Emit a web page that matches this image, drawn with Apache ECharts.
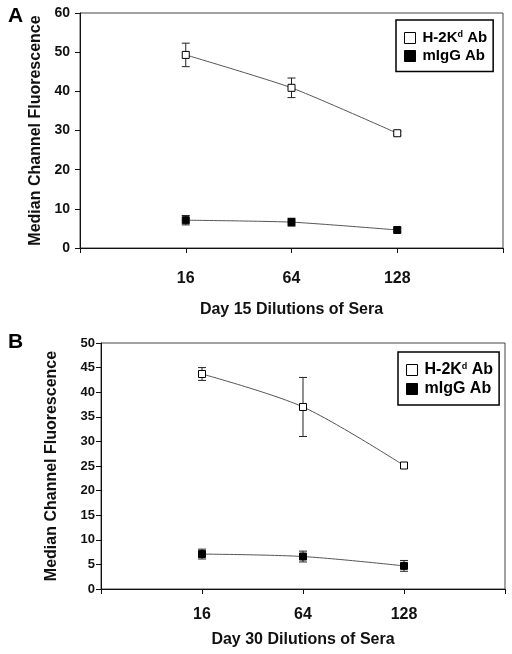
<!DOCTYPE html>
<html><head><meta charset="utf-8">
<script src="https://cdn.jsdelivr.net/npm/echarts@6/dist/echarts.min.js"></script>
<style>html,body{margin:0;padding:0;background:#fff}#c{width:512px;height:654px}</style>
</head><body><div id="c"></div>
<script>
const categories = ['', '16', '64', '128', ''];
const seriesNames = ['H-2Kd Ab', 'mIgG Ab'];
const aH2Kd = [49.3, 40.9, 29.3];
const aH2KdErr = [3.0, 2.5, 0.5];
const aMIgG = [7.1, 6.6, 4.6];
const aMIgGErr = [1.2, 1.0, 0.5];
const bH2Kd = [43.7, 37.0, 25.1];
const bH2KdErr = [1.3, 6.0, 0.6];
const bMIgG = [7.1, 6.6, 4.7];
const bMIgGErr = [1.0, 1.1, 1.1];
const xNames = ['Day 15 Dilutions of Sera', 'Day 30 Dilutions of Sera'];
const yName = 'Median Channel Fluorescence';

const FONT = 'Liberation Sans, Arial, sans-serif';
const pad = v => ['-', ...v, '-'];
const errData = (v, e) => v.map((y, i) => [i + 1, y - e[i], y + e[i]]);

function errSeries(idx, v, e) {
  return {
    type: 'custom', xAxisIndex: idx, yAxisIndex: idx, silent: true, z: 1,
    data: errData(v, e),
    encode: {x: 0, y: [1, 2]},
    renderItem: (params, api) => {
      const x = api.value(0);
      const lo = api.coord([x, api.value(1)]);
      const hi = api.coord([x, api.value(2)]);
      const w = 4;
      const st = {stroke: '#222', lineWidth: 1};
      return {type: 'group', children: [
        {type: 'line', shape: {x1: lo[0], y1: lo[1], x2: hi[0], y2: hi[1]}, style: st},
        {type: 'line', shape: {x1: lo[0] - w, y1: lo[1], x2: lo[0] + w, y2: lo[1]}, style: st},
        {type: 'line', shape: {x1: hi[0] - w, y1: hi[1], x2: hi[0] + w, y2: hi[1]}, style: st}
      ]};
    }
  };
}
function lineSeries(idx, name, v, filled, smooth) {
  return {
    type: 'line', name, xAxisIndex: idx, yAxisIndex: idx, z: 3,
    data: pad(v), smooth, symbol: 'rect', symbolSize: 7,
    lineStyle: {color: '#555', width: 1},
    itemStyle: {color: filled ? '#000' : '#fff', borderColor: '#000', borderWidth: 1},
    emphasis: {disabled: true}
  };
}
const legendData = [
  {name: seriesNames[0], icon: 'rect', itemStyle: {color: '#fff', borderColor: '#000', borderWidth: 1}},
  {name: seriesNames[1], icon: 'rect', itemStyle: {color: '#000', borderColor: '#000', borderWidth: 1}}
];
function legend(left, top, fs) {
  return {
    left, top, orient: 'vertical', data: legendData, itemWidth: 11, itemHeight: 11, itemGap: 3,
    padding: [10, 6, 8, 8], borderColor: '#000', borderWidth: 1.5, selectedMode: false,
    formatter: n => n === seriesNames[0] ? 'H-2K{sup|d} Ab' : n,
    textStyle: {fontFamily: FONT, fontWeight: 'bold', fontSize: fs, color: '#000', padding: [0, 0, 0, 2],
      rich: {sup: {fontFamily: FONT, fontWeight: 'bold', fontSize: 9, color: '#000', padding: [0, 0, 7, 0]}}}
  };
}
function xAxis(idx, margin, nameGap) {
  return {
    type: 'category', gridIndex: idx, data: categories, boundaryGap: false,
    name: xNames[idx], nameLocation: 'middle', nameGap,
    nameTextStyle: {fontFamily: FONT, fontWeight: 'bold', fontSize: 16, color: '#111'},
    axisLine: {lineStyle: {color: '#111', width: 1}},
    axisTick: {show: true, length: 5, inside: false, lineStyle: {color: '#111'}, alignWithLabel: true},
    axisLabel: {fontFamily: FONT, fontWeight: 'bold', fontSize: 16, color: '#111', margin, showMinLabel: true, showMaxLabel: true, interval: 0},
    splitLine: {show: false}
  };
}
function yAxis(idx, max, interval, nameGap, fs, margin) {
  return {
    type: 'value', gridIndex: idx, min: 0, max, interval,
    name: yName, nameLocation: 'middle', nameGap,
    nameTextStyle: {fontFamily: FONT, fontWeight: 'bold', fontSize: 16, color: '#111'},
    axisLine: {show: true, lineStyle: {color: '#111', width: 1}},
    axisTick: {show: true, length: 5, lineStyle: {color: '#111'}},
    axisLabel: {fontFamily: FONT, fontWeight: 'bold', fontSize: fs, color: '#111', margin},
    splitLine: {show: false}
  };
}
const chart = echarts.init(document.getElementById('c'), null, {renderer: 'canvas'});
chart.setOption({
  animation: false,
  backgroundColor: '#fff',
  title: [
    {text: 'A', left: 8, top: 6, padding: 0, textStyle: {fontFamily: FONT, fontWeight: 'bold', fontSize: 21, color: '#000'}},
    {text: 'B', left: 8, top: 332, padding: 0, textStyle: {fontFamily: FONT, fontWeight: 'bold', fontSize: 21, color: '#000'}}
  ],
  legend: [legend(396, 20, 15), legend(398, 352, 16)],
  grid: [
    {left: 80, top: 13, width: 423, height: 235, show: true, borderColor: '#444', borderWidth: 1},
    {left: 101, top: 343, width: 404, height: 246, show: true, borderColor: '#444', borderWidth: 1}
  ],
  xAxis: [xAxis(0, 23, 54), xAxis(1, 18, 43)],
  yAxis: [yAxis(0, 60, 10, 31, 14, 10), yAxis(1, 50, 5, 41, 13, 6)],
  series: [
    errSeries(0, aH2Kd, aH2KdErr),
    errSeries(0, aMIgG, aMIgGErr),
    lineSeries(0, seriesNames[0], aH2Kd, false, 0.2),
    lineSeries(0, seriesNames[1], aMIgG, true, 0.2),
    errSeries(1, bH2Kd, bH2KdErr),
    errSeries(1, bMIgG, bMIgGErr),
    lineSeries(1, seriesNames[0], bH2Kd, false, 0.3),
    lineSeries(1, seriesNames[1], bMIgG, true, 0.3)
  ]
});
</script></body></html>
